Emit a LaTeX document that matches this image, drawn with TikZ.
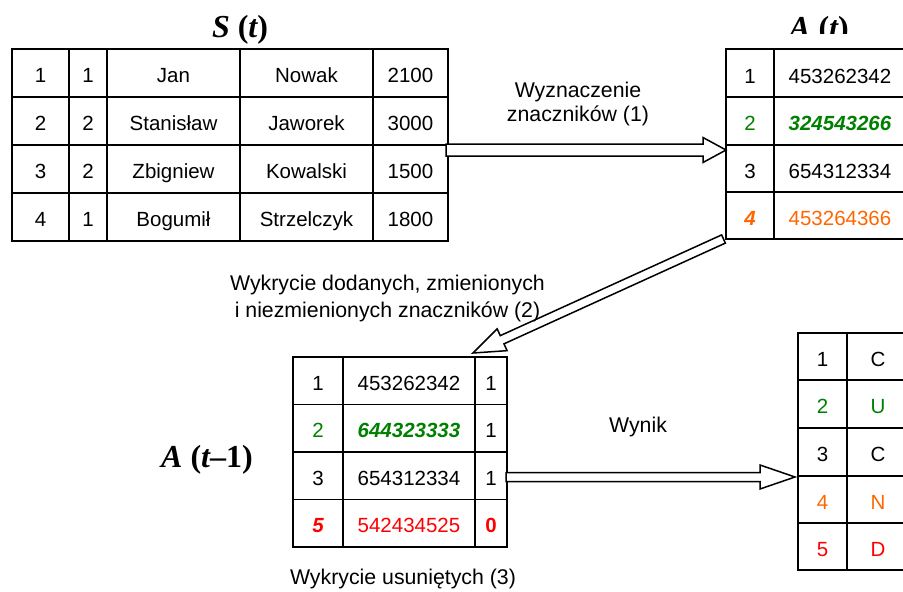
\documentclass[tikz,border=0pt]{standalone}
\usepackage{fontspec}
\setmainfont{Liberation Sans}
\newfontfamily\tnr{Liberation Serif}
\usetikzlibrary{calc}
\definecolor{dgreen}{RGB}{0,128,0}
\definecolor{orng}{RGB}{255,102,0}
\definecolor{rd}{RGB}{255,0,0}
\newcommand\fatarrow[5]{%
  \coordinate (hb) at ($(#2)!#5!(#1)$);
  \draw[fat] ($(#1)!#3!90:(#2)$) -- ($(hb)!#3!-90:(#1)$) -- ($(hb)!#4!-90:(#1)$) -- (#2)
    -- ($(hb)!#4!90:(#1)$) -- ($(hb)!#3!90:(#1)$) -- ($(#1)!#3!-90:(#2)$) -- cycle;}
\begin{document}
\begin{tikzpicture}[x=1pt,y=-1pt,
  grid/.style={line width=1.8pt},
  cell/.style={inner sep=0pt, text height=14.7pt, text depth=0pt, font=\fontsize{20.5}{24}\selectfont},
  lbl/.style={inner sep=0pt, align=center, font=\fontsize{21.3}{24}\selectfont},
  ttl/.style={inner sep=0pt, anchor=base, font=\tnr\fontsize{32}{36}\selectfont\bfseries},
  fat/.style={draw, line width=1.5pt, fill=white, line join=miter},
  bi/.style={font=\fontsize{20.5}{24}\selectfont\bfseries\itshape}]
\useasboundingbox (0,0) rectangle (903,592);

% ---------- S(t) ----------
\node[ttl] (Sttl) at (240,37) {\itshape S \upshape(\itshape t\upshape)};
\draw[grid] (12,49) rectangle (448,241);
\foreach \y in {97,145,193} \draw[grid] (12,\y) -- (448,\y);
\foreach \x in {69,107,240,373} \draw[grid] (\x,49) -- (\x,241);
\foreach \r/\y/\a/\b/\c/\d/\e in {1/75/1/1/Jan/Nowak/2100,
  2/123/2/2/Stanisław/Jaworek/3000,
  3/171/3/2/Zbigniew/Kowalski/1500,
  4/219/4/1/Bogumił/Strzelczyk/1800}{
  \node[cell] (s\r a) at (40.5,\y) {\a};
  \node[cell] (s\r b) at (88,\y) {\b};
  \node[cell] (s\r c) at (173.5,\y) {\c};
  \node[cell] (s\r d) at (306.5,\y) {\d};
  \node[cell] (s\r e) at (410.5,\y) {\e};
}
\coordinate (Sout) at (446,150);

% ---------- A(t) ----------
\begin{scope}
  \clip (700,0) rectangle (903,33);
  \node[ttl] (Attl) at (819,38) {\itshape A \upshape(\itshape t\upshape)};
\end{scope}
\draw[grid] (726,49) rectangle (912,239);
\foreach \y in {97,145,192} \draw[grid] (726,\y) -- (912,\y);
\draw[grid] (774,49) -- (774,239);
\node[cell] (a1a) at (750,76) {1};
\node[cell] (a1b) at (840,76) {453262342};
\node[cell,text=dgreen] (a2a) at (750,123.5) {2};
\node[cell,bi,text=dgreen] (a2b) at (840,123.5) {324543266};
\node[cell] (a3a) at (750,171) {3};
\node[cell] (a3b) at (840,171) {654312334};
\node[cell,bi,text=orng] (a4a) at (750,218) {4};
\node[cell,text=orng] (a4b) at (840,218) {453264366};
\coordinate (Ain) at (726,150);
\coordinate (Aout) at (723.5,239);

% ---------- A(t-1) ----------
\node[ttl] (Bttl) at (207,467) {\itshape A \upshape(\itshape t\upshape–1)};
\draw[grid] (293,357) rectangle (507,547);
\foreach \y in {404.5,452,499.5} \draw[grid] (293,\y) -- (507,\y);
\foreach \x in {343,475} \draw[grid] (\x,357) -- (\x,547);
\node[cell] (b1a) at (318,383) {1};
\node[cell] (b1b) at (409,383) {453262342};
\node[cell] (b1c) at (491,383) {1};
\node[cell,text=dgreen] (b2a) at (318,430.5) {2};
\node[cell,bi,text=dgreen] (b2b) at (409,430.5) {644323333};
\node[cell] (b2c) at (491,430.5) {1};
\node[cell] (b3a) at (318,478) {3};
\node[cell] (b3b) at (409,478) {654312334};
\node[cell] (b3c) at (491,478) {1};
\node[cell,bi,text=rd] (b4a) at (318,525.5) {5};
\node[cell,text=rd] (b4b) at (409,525.5) {542434525};
\node[cell,text=rd,font=\fontsize{20.5}{24}\selectfont\bfseries] (b4c) at (491,525.5) {0};
\coordinate (Bin) at (473,353);
\coordinate (Bout) at (506,477);

% ---------- Result ----------
\draw[grid] (798,333) rectangle (912,570);
\foreach \y in {380,428,476,523} \draw[grid] (798,\y) -- (912,\y);
\draw[grid] (847,333) -- (847,570);
\foreach \r/\y/\a/\b/\c in {1/359/1/C/black, 2/406.5/2/U/dgreen, 3/454.5/3/C/black,
  4/502/4/N/orng, 5/549/5/D/rd}{
  \node[cell,text=\c] (c\r a) at (822.5,\y) {\a};
  \node[cell,text=\c] (c\r b) at (878,\y) {\b};
}
\coordinate (Cin) at (795,477);

% ---------- Arrows ----------
\fatarrow{Sout}{Ain}{6pt}{12.5pt}{23pt}
\fatarrow{Aout}{Bin}{4.5pt}{12pt}{32pt}
\fatarrow{Bout}{Cin}{4.5pt}{12pt}{35pt}

% ---------- Labels ----------
\node[lbl] (l1) at (578,104) {Wyznaczenie\\znaczników (1)};
\node[lbl,font=\fontsize{21.3}{27}\selectfont] (l2) at (387.5,298.4) {Wykrycie dodanych, zmienionych\\i niezmienionych znaczników (2)};
\node[lbl] (l3) at (638,427) {Wynik};
\node[lbl] (l4) at (403,579) {Wykrycie usuniętych (3)};
\end{tikzpicture}
\end{document}
